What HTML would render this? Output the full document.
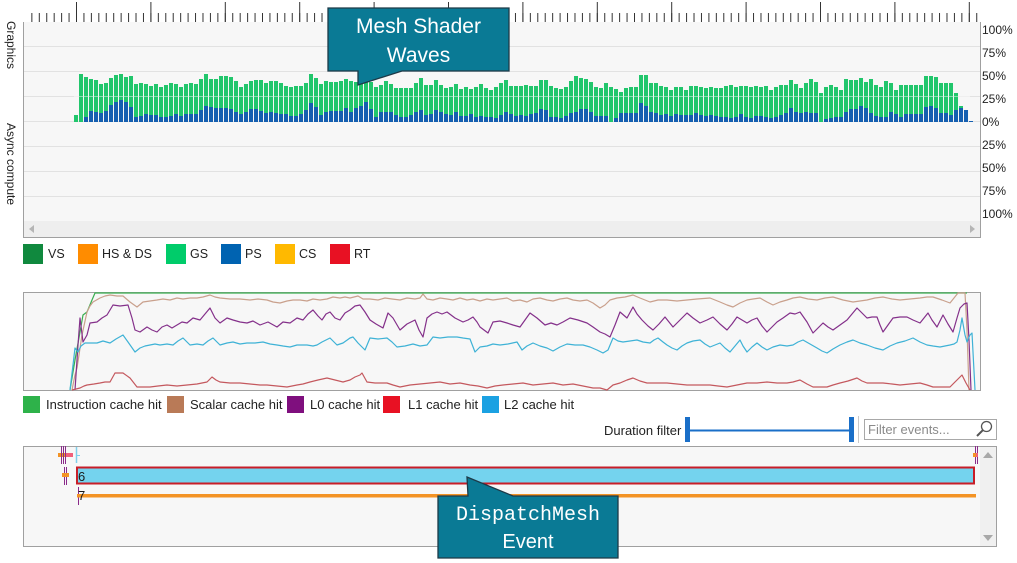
<!DOCTYPE html>
<html><head><meta charset="utf-8">
<style>
html,body{margin:0;padding:0;background:#fff;}
svg{display:block;font-family:"Liberation Sans",Arial,sans-serif;}
</style></head>
<body>
<svg width="1017" height="563" viewBox="0 0 1017 563" xmlns="http://www.w3.org/2000/svg">
<defs>
<pattern id="mn" x="76" y="0" width="7.44" height="30" patternUnits="userSpaceOnUse"><rect x="0" y="13" width="1" height="9" fill="#333"/></pattern>
<pattern id="mj" x="76" y="0" width="74.4" height="30" patternUnits="userSpaceOnUse"><rect x="0" y="2" width="1" height="20" fill="#333"/></pattern>
</defs>
<rect width="1017" height="563" fill="#ffffff"/>
<!-- top chart -->
<rect x="23.5" y="22" width="957" height="215.5" fill="#f7f7f7"/>
<g stroke="#e2e2e2" stroke-width="1">
<line x1="24" x2="980" y1="46.5" y2="46.5"/>
<line x1="24" x2="980" y1="71.5" y2="71.5"/>
<line x1="24" x2="980" y1="96.5" y2="96.5"/>
<line x1="24" x2="980" y1="121.5" y2="121.5"/>
<line x1="24" x2="980" y1="146.5" y2="146.5"/>
<line x1="24" x2="980" y1="171.5" y2="171.5"/>
<line x1="24" x2="980" y1="196.5" y2="196.5"/>
</g>
<path fill="#21c66c" d="M74 115h4V122h-4z
M79 74h4V122h-4zM84 77h4V122h-4zM89 79h4V122h-4zM94 80h4V122h-4zM99 84h4V122h-4zM104 83h4V122h-4zM109 78h4V122h-4zM114 75h4V122h-4zM119 74h4V122h-4zM124 77h4V122h-4z
M129 76h4V122h-4zM134 84h4V122h-4zM139 83h4V122h-4zM144 84h4V122h-4zM149 86h4V122h-4zM154 84h4V122h-4zM159 87h4V122h-4zM164 85h4V122h-4zM169 83h4V122h-4zM174 84h4V122h-4z
M179 87h4V122h-4zM184 84h4V122h-4zM189 83h4V122h-4zM194 84h4V122h-4zM199 79h4V122h-4zM204 74h4V122h-4zM209 79h4V122h-4zM214 79h4V122h-4zM219 76h4V122h-4zM224 76h4V122h-4z
M229 77h4V122h-4zM234 81h4V122h-4zM239 87h4V122h-4zM244 84h4V122h-4zM249 81h4V122h-4zM254 80h4V122h-4zM259 80h4V122h-4zM264 83h4V122h-4zM269 81h4V122h-4zM274 81h4V122h-4z
M279 83h4V122h-4zM284 86h4V122h-4zM289 87h4V122h-4zM294 86h4V122h-4zM299 86h4V122h-4zM304 83h4V122h-4zM309 74h4V122h-4zM314 78h4V122h-4zM319 84h4V122h-4zM324 81h4V122h-4z
M329 82h4V122h-4zM334 82h4V122h-4zM339 81h4V122h-4zM344 79h4V122h-4zM349 81h4V122h-4zM354 82h4V122h-4zM359 77h4V122h-4zM364 82h4V122h-4zM369 82h4V122h-4zM374 87h4V122h-4z
M379 85h4V122h-4zM384 81h4V122h-4zM389 84h4V122h-4zM394 88h4V122h-4zM399 88h4V122h-4zM404 88h4V122h-4zM409 88h4V122h-4zM414 83h4V122h-4zM419 78h4V122h-4zM424 85h4V122h-4z
M429 85h4V122h-4zM434 80h4V122h-4zM439 85h4V122h-4zM444 88h4V122h-4zM449 87h4V122h-4zM454 84h4V122h-4zM459 89h4V122h-4zM464 87h4V122h-4zM469 89h4V122h-4zM474 87h4V122h-4z
M479 84h4V122h-4zM484 88h4V122h-4zM489 90h4V122h-4zM494 87h4V122h-4zM499 83h4V122h-4zM504 80h4V122h-4zM509 86h4V122h-4zM514 86h4V122h-4zM519 86h4V122h-4zM524 85h4V122h-4z
M529 86h4V122h-4zM534 86h4V122h-4zM539 80h4V122h-4zM544 80h4V122h-4zM549 86h4V122h-4zM554 88h4V122h-4zM559 89h4V122h-4zM564 87h4V122h-4zM569 81h4V122h-4zM574 76h4V122h-4z
M579 78h4V122h-4zM584 79h4V122h-4zM589 82h4V122h-4zM594 87h4V122h-4zM599 88h4V122h-4zM604 83h4V122h-4zM609 87h4V122h-4zM614 89h4V122h-4zM619 92h4V122h-4zM624 88h4V122h-4z
M629 87h4V122h-4zM634 87h4V122h-4zM639 75h4V122h-4zM644 75h4V122h-4zM649 83h4V122h-4zM654 83h4V122h-4zM659 86h4V122h-4zM664 87h4V122h-4zM669 90h4V122h-4zM674 87h4V122h-4z
M679 87h4V122h-4zM684 90h4V122h-4zM689 86h4V122h-4zM694 86h4V122h-4zM699 87h4V122h-4zM704 88h4V122h-4zM709 87h4V122h-4zM714 88h4V122h-4zM719 88h4V122h-4zM724 86h4V122h-4z
M729 85h4V122h-4zM734 87h4V122h-4zM739 86h4V122h-4zM744 86h4V122h-4zM749 87h4V122h-4zM754 86h4V122h-4zM759 87h4V122h-4zM764 86h4V122h-4zM769 90h4V122h-4zM774 87h4V122h-4z
M779 85h4V122h-4zM784 85h4V122h-4zM789 80h4V122h-4zM794 84h4V122h-4zM799 88h4V122h-4zM804 83h4V122h-4zM809 79h4V122h-4zM814 82h4V122h-4zM819 93h4V122h-4zM824 87h4V122h-4z
M829 85h4V122h-4zM834 87h4V122h-4zM839 90h4V122h-4zM844 79h4V122h-4zM849 80h4V122h-4zM854 80h4V122h-4zM859 78h4V122h-4zM864 82h4V122h-4zM869 79h4V122h-4zM874 85h4V122h-4z
M879 87h4V122h-4zM884 81h4V122h-4zM889 83h4V122h-4zM894 90h4V122h-4zM899 85h4V122h-4zM904 85h4V122h-4zM909 85h4V122h-4zM914 85h4V122h-4zM919 85h4V122h-4zM924 76h4V122h-4z
M929 76h4V122h-4zM934 77h4V122h-4zM939 83h4V122h-4zM944 83h4V122h-4zM949 83h4V122h-4zM954 93h4V122h-4zM959 106h4V122h-4z"/>
<path fill="#155fb0" d="M84 117h4V122h-4zM89 111h4V122h-4zM94 112h4V122h-4zM99 113h4V122h-4zM104 111h4V122h-4zM109 105h4V122h-4zM114 102h4V122h-4zM119 100h4V122h-4zM124 102h4V122h-4z
M129 107h4V122h-4zM134 117h4V122h-4zM139 116h4V122h-4zM144 114h4V122h-4zM149 115h4V122h-4zM154 115h4V122h-4zM159 117h4V122h-4zM164 117h4V122h-4zM169 116h4V122h-4zM174 114h4V122h-4z
M179 116h4V122h-4zM184 114h4V122h-4zM189 114h4V122h-4zM194 114h4V122h-4zM199 110h4V122h-4zM204 106h4V122h-4zM209 107h4V122h-4zM214 108h4V122h-4zM219 108h4V122h-4zM224 108h4V122h-4z
M229 109h4V122h-4zM234 112h4V122h-4zM239 114h4V122h-4zM244 112h4V122h-4zM249 109h4V122h-4zM254 109h4V122h-4zM259 111h4V122h-4zM264 113h4V122h-4zM269 112h4V122h-4zM274 113h4V122h-4z
M279 114h4V122h-4zM284 114h4V122h-4zM289 116h4V122h-4zM294 116h4V122h-4zM299 114h4V122h-4zM304 110h4V122h-4zM309 103h4V122h-4zM314 107h4V122h-4zM319 115h4V122h-4zM324 112h4V122h-4z
M329 111h4V122h-4zM334 111h4V122h-4zM339 111h4V122h-4zM344 108h4V122h-4zM349 112h4V122h-4zM354 108h4V122h-4zM359 106h4V122h-4zM364 102h4V122h-4zM369 109h4V122h-4zM374 117h4V122h-4z
M379 112h4V122h-4zM384 112h4V122h-4zM389 112h4V122h-4zM394 115h4V122h-4zM399 117h4V122h-4zM404 117h4V122h-4zM409 115h4V122h-4zM414 112h4V122h-4zM419 110h4V122h-4zM424 115h4V122h-4z
M429 114h4V122h-4zM434 110h4V122h-4zM439 112h4V122h-4zM444 114h4V122h-4zM449 115h4V122h-4zM454 112h4V122h-4zM459 116h4V122h-4zM464 116h4V122h-4zM469 114h4V122h-4zM474 117h4V122h-4z
M479 116h4V122h-4zM484 117h4V122h-4zM489 117h4V122h-4zM494 118h4V122h-4zM499 115h4V122h-4zM504 112h4V122h-4zM509 114h4V122h-4zM514 116h4V122h-4zM519 115h4V122h-4zM524 116h4V122h-4z
M529 114h4V122h-4zM534 113h4V122h-4zM539 109h4V122h-4zM544 110h4V122h-4zM549 117h4V122h-4zM554 117h4V122h-4zM559 118h4V122h-4zM564 116h4V122h-4zM569 113h4V122h-4zM574 112h4V122h-4z
M579 109h4V122h-4zM584 109h4V122h-4zM589 112h4V122h-4zM594 116h4V122h-4zM599 116h4V122h-4zM604 116h4V122h-4zM614 118h4V122h-4zM619 113h4V122h-4zM624 113h4V122h-4z
M629 113h4V122h-4zM634 113h4V122h-4zM639 103h4V122h-4zM644 106h4V122h-4zM649 112h4V122h-4zM654 113h4V122h-4zM659 115h4V122h-4zM664 114h4V122h-4zM669 116h4V122h-4zM674 114h4V122h-4z
M679 115h4V122h-4zM684 115h4V122h-4zM689 115h4V122h-4zM694 113h4V122h-4zM699 115h4V122h-4zM704 116h4V122h-4zM709 115h4V122h-4zM714 116h4V122h-4zM719 117h4V122h-4zM724 117h4V122h-4z
M729 118h4V122h-4zM734 117h4V122h-4zM739 114h4V122h-4zM744 117h4V122h-4zM749 118h4V122h-4zM754 116h4V122h-4zM759 116h4V122h-4zM764 117h4V122h-4zM769 118h4V122h-4zM774 117h4V122h-4z
M779 115h4V122h-4zM784 113h4V122h-4zM789 108h4V122h-4zM794 112h4V122h-4zM799 113h4V122h-4zM804 112h4V122h-4zM809 113h4V122h-4zM814 113h4V122h-4zM824 119h4V122h-4z
M829 118h4V122h-4zM834 117h4V122h-4zM839 117h4V122h-4zM844 112h4V122h-4zM849 109h4V122h-4zM854 109h4V122h-4zM859 106h4V122h-4zM864 108h4V122h-4zM869 113h4V122h-4zM874 116h4V122h-4z
M879 117h4V122h-4zM884 117h4V122h-4zM889 112h4V122h-4zM894 114h4V122h-4zM899 117h4V122h-4zM904 114h4V122h-4zM909 114h4V122h-4zM914 114h4V122h-4zM919 114h4V122h-4zM924 107h4V122h-4z
M929 106h4V122h-4zM934 108h4V122h-4zM939 113h4V122h-4zM944 113h4V122h-4zM949 115h4V122h-4zM954 110h4V122h-4zM959 108h4V122h-4zM964 110h4V122h-4zM969 121h4V122h-4z"/>
<line x1="74" x2="970" y1="96.5" y2="96.5" stroke="#ffffff" stroke-opacity="0.45"/>
<rect x="24" y="221" width="956" height="16" fill="#eeeeee"/>
<polygon points="29,229 34,225 34,233" fill="#b5b5b5"/>
<polygon points="975,229 970,225 970,233" fill="#b5b5b5"/>
<path d="M23.5,22 V237.5 H980.5 V22" fill="none" stroke="#a0a0a0"/>
<rect x="28" y="0" width="953" height="23" fill="url(#mn)"/>
<rect x="70" y="0" width="911" height="23" fill="url(#mj)"/>
<g font-size="12" fill="#222">
<text x="982" y="34">100%</text>
<text x="982" y="57">75%</text>
<text x="982" y="80">50%</text>
<text x="982" y="103">25%</text>
<text x="982" y="126">0%</text>
<text x="982" y="149">25%</text>
<text x="982" y="172">50%</text>
<text x="982" y="195">75%</text>
<text x="982" y="218">100%</text>
<text transform="translate(7,21) rotate(90)">Graphics</text>
<text transform="translate(7,123) rotate(90)">Async compute</text>
</g>
<!-- legend 1 -->
<g font-size="12.5" fill="#222">
<rect x="23" y="244" width="20" height="20" fill="#10893e"/><text x="48" y="258">VS</text>
<rect x="78" y="244" width="20" height="20" fill="#ff8c00"/><text x="102" y="258">HS &amp; DS</text>
<rect x="166" y="244" width="20" height="20" fill="#00cc6a"/><text x="190" y="258">GS</text>
<rect x="221" y="244" width="20" height="20" fill="#0063b1"/><text x="245" y="258">PS</text>
<rect x="275" y="244" width="20" height="20" fill="#ffb900"/><text x="299" y="258">CS</text>
<rect x="330" y="244" width="20" height="20" fill="#e81123"/><text x="354" y="258">RT</text>
</g>
<!-- line chart -->
<rect x="23.5" y="292.5" width="957" height="98" fill="#f7f7f7" stroke="#a0a0a0"/>
<g fill="none" stroke-width="1.2" stroke-linejoin="round">
<polyline stroke="#3aae50" points="70,390 75,360 80,332 83,315 87,312 92,300 95,293 967,293"/>
<polyline stroke="#c9a08c" points="72,390 75,375 77,368 82,335 87,312 90,306 93,302 100,298 105,296 110,295 117,296 123,296 130,302 137,307 143,302 150,301 157,300 163,299 170,300 177,298 183,299 190,298 197,298 203,297 210,295 215,297 220,298 230,299 240,299 250,300 258,299 267,300 273,302 280,303 287,301 293,300 300,300 307,301 313,299 320,300 327,299 333,297 340,298 345,297 350,298 358,296 363,299 370,299 378,300 385,298 392,299 400,300 407,298 415,299 420,298 423,294 427,299 433,300 440,298 447,299 453,300 460,298 467,300 473,299 480,301 487,299 493,300 500,299 507,298 513,301 520,300 527,302 533,299 540,298 547,300 553,301 560,299 567,298 573,300 580,301 587,300 593,303 600,308 605,305 610,300 617,298 625,297 633,295 640,298 650,302 658,300 667,300 677,301 687,300 697,299 710,298 720,302 727,305 733,307 740,303 747,300 753,299 760,298 767,302 773,305 780,302 787,300 793,298 800,297 808,299 817,300 825,298 833,297 843,300 853,302 860,301 867,300 875,298 883,297 892,299 900,300 910,299 920,298 927,297 933,297 942,300 950,303 954,298 958,293 965,293 967,330 969,390"/>
<polyline stroke="#84308a" points="75,390 78,345 80,318 83,342 87,335 90,323 97,322 102,318 107,315 113,305 120,306 128,305 132,318 135,330 140,332 147,327 152,330 157,332 162,327 167,325 172,328 177,325 182,322 187,323 193,318 200,320 205,314 210,308 215,318 220,323 227,318 233,320 240,322 247,323 253,321 260,325 268,322 277,327 283,322 290,323 297,318 303,320 308,314 313,310 318,316 322,320 326,314 330,312 335,318 340,320 345,313 350,310 355,306 360,305 365,312 370,320 376,324 383,328 388,313 393,318 400,330 407,324 415,320 419,330 423,337 427,318 432,314 437,312 442,314 447,312 455,318 463,322 468,320 473,317 477,322 480,327 484,330 488,333 493,322 500,321 507,323 513,325 520,327 525,320 530,313 537,318 545,325 551,323 557,325 563,322 570,318 578,320 587,323 593,327 600,332 605,334 610,337 615,325 620,312 627,318 633,307 637,314 642,320 648,326 653,330 659,324 665,317 669,322 673,327 680,320 687,313 693,318 700,323 707,320 713,317 720,324 727,330 732,324 737,317 742,320 747,323 752,320 757,318 762,326 767,332 772,327 777,322 783,318 790,313 795,314 800,312 807,322 813,333 818,328 823,323 828,327 833,330 840,325 847,320 852,314 857,308 862,313 867,318 872,317 877,317 880,325 883,332 888,325 893,318 900,317 907,317 913,320 920,323 924,318 928,313 932,320 937,327 940,321 943,315 948,324 953,332 957,318 960,308 964,304 967,303 969,340 971,390"/>
<polyline stroke="#3eb2d6" points="70,390 73,365 75,348 78,352 81,346 85,343 91,343 97,343 103,341 110,343 116,339 123,335 128,342 135,352 140,348 145,346 150,345 155,344 160,345 167,344 173,345 178,341 183,338 190,345 197,344 203,345 208,341 213,338 220,345 227,343 233,342 240,344 247,343 255,343 263,342 270,344 277,345 283,346 290,347 297,345 307,345 313,346 317,345 322,342 330,338 337,345 343,343 350,338 353,337 358,343 365,350 370,338 378,339 387,338 392,342 397,347 405,346 413,344 420,346 427,345 433,337 440,338 448,337 457,337 463,338 470,339 475,352 480,347 487,346 493,344 500,345 508,344 517,342 522,350 527,346 533,343 540,346 547,348 553,351 560,347 567,344 575,345 583,345 590,347 597,350 603,353 608,350 613,338 618,341 623,342 630,341 637,340 643,342 650,343 654,340 658,338 663,342 667,345 672,348 677,350 682,346 687,343 693,341 700,340 705,344 710,347 715,345 720,343 725,348 730,352 735,346 740,340 743,346 747,352 752,347 757,343 762,347 767,350 773,347 780,345 787,346 793,345 798,342 803,340 810,344 817,348 822,351 827,353 833,349 840,345 847,342 853,340 860,343 867,345 875,348 883,350 890,346 897,343 905,341 913,338 920,342 927,345 933,346 940,347 945,346 950,345 954,344 957,342 960,330 962,318 965,335 967,342 970,335 972,333 975,390"/>
<polyline stroke="#c4585e" points="72,390 76,389 80,388 84,386 87,385 94,384 100,383 105,382 110,382 115,373 120,373 123,373 130,378 137,387 143,387 150,387 158,386 167,385 177,386 187,385 197,384 207,382 212,377 216,380 220,382 230,383 240,383 250,384 260,385 267,385 277,386 287,387 297,385 303,384 310,382 318,380 327,378 335,380 343,382 350,380 355,377 360,375 362,373 367,382 375,383 387,383 393,385 400,387 410,385 420,384 430,383 440,382 450,384 460,383 470,385 478,386 487,388 495,386 503,385 513,384 523,383 533,385 543,384 553,383 563,385 573,384 583,386 593,388 600,388 607,390 613,385 620,383 627,380 633,378 640,381 647,383 657,383 667,383 677,384 687,385 697,385 710,385 718,386 727,387 737,385 747,383 757,383 767,382 777,383 787,383 793,382 800,380 807,384 813,387 820,387 827,387 833,385 840,383 848,381 857,378 862,381 867,383 875,383 883,383 892,384 900,385 910,384 920,383 927,385 933,387 942,387 950,387 956,381 962,375 966,383 970,390"/>
</g>
<!-- legend 2 -->
<g font-size="13" fill="#222">
<rect x="23" y="396" width="17" height="17" fill="#2eb24a"/><text x="46" y="409">Instruction cache hit</text>
<rect x="167" y="396" width="17" height="17" fill="#b97a57"/><text x="190" y="409">Scalar cache hit</text>
<rect x="287" y="396" width="17" height="17" fill="#7f0f7e"/><text x="310" y="409">L0 cache hit</text>
<rect x="383" y="396" width="17" height="17" fill="#e81123"/><text x="408" y="409">L1 cache hit</text>
<rect x="482" y="396" width="17" height="17" fill="#1ba1e2"/><text x="504" y="409">L2 cache hit</text>
<text x="604" y="435">Duration filter</text>
</g>
<!-- slider -->
<line x1="689" x2="850" y1="430.5" y2="430.5" stroke="#1a6fc8" stroke-width="2"/>
<rect x="685" y="417" width="5" height="25" fill="#1a6fc8"/>
<rect x="849" y="417" width="5" height="25" fill="#1a6fc8"/>
<line x1="858.5" x2="858.5" y1="416" y2="443" stroke="#c8c8c8"/>
<rect x="864.5" y="419.5" width="132" height="20" fill="#ffffff" stroke="#a8a8a8"/>
<text x="868" y="434" font-size="13" fill="#8a8a8a">Filter events...</text>
<circle cx="986.5" cy="426.5" r="5" fill="none" stroke="#555" stroke-width="1.3"/>
<line x1="982.8" y1="430.2" x2="977" y2="436" stroke="#555" stroke-width="2"/>
<!-- bottom panel -->
<rect x="23.5" y="446.5" width="973" height="100" fill="#f7f7f7" stroke="#a0a0a0"/>
<rect x="980" y="447" width="16" height="99" fill="#f0f0f0"/>
<polygon points="988,452 983,458 993,458" fill="#a8a8a8"/>
<polygon points="988,541 983,535 993,535" fill="#a8a8a8"/>
<rect x="58" y="453" width="15" height="4" fill="#f0607a"/>
<rect x="58" y="453" width="7" height="4" fill="#f39325"/>
<g stroke="#8a2a8a" stroke-width="1">
<line x1="61.5" x2="61.5" y1="446" y2="464"/>
<line x1="63.5" x2="63.5" y1="446" y2="464"/>
<line x1="65.5" x2="65.5" y1="446" y2="464"/>
<line x1="64.5" x2="64.5" y1="467" y2="485"/>
<line x1="66.5" x2="66.5" y1="467" y2="485"/>
<line x1="78.5" x2="78.5" y1="487" y2="505"/>
<line x1="975.5" x2="975.5" y1="446" y2="464"/>
<line x1="977.5" x2="977.5" y1="446" y2="464"/>
</g>
<line x1="76.5" x2="76.5" y1="447" y2="463" stroke="#7fd0ec" stroke-width="1.5"/>
<line x1="76" x2="80" y1="455.5" y2="455.5" stroke="#7fd0ec"/>
<rect x="62" y="473" width="7" height="4" fill="#f39325"/>
<rect x="973" y="453" width="3" height="4" fill="#f39325"/>
<rect x="976" y="453" width="2" height="4" fill="#f0607a"/>
<rect x="77" y="467.5" width="897" height="16" fill="#74d3ee" stroke="#c81e28" stroke-width="2"/>
<text x="78" y="481" font-size="13" fill="#1a1a1a">6</text>
<rect x="77" y="494" width="899" height="3.5" fill="#f39325"/>
<text x="78" y="500" font-size="13" fill="#1a1a1a">7</text>
<!-- callouts -->
<path d="M328,8 H509 V71 H402 L358,85 V71 H328 Z" fill="#0a7a95" stroke="#1d3a48" stroke-width="1.3"/>
<text x="418.5" y="33" font-size="21" fill="#ffffff" text-anchor="middle">Mesh Shader</text>
<text x="418.5" y="62" font-size="21" fill="#ffffff" text-anchor="middle">Waves</text>
<path d="M438,496 H468 L467,477 L513,496 H618 V558 H438 Z" fill="#0a7a95" stroke="#1d3a48" stroke-width="1.3"/>
<text x="528" y="520" font-size="20" fill="#ffffff" text-anchor="middle" font-family="'Liberation Mono',monospace">DispatchMesh</text>
<text x="528" y="548" font-size="20" fill="#ffffff" text-anchor="middle">Event</text>
</svg>
</body></html>
